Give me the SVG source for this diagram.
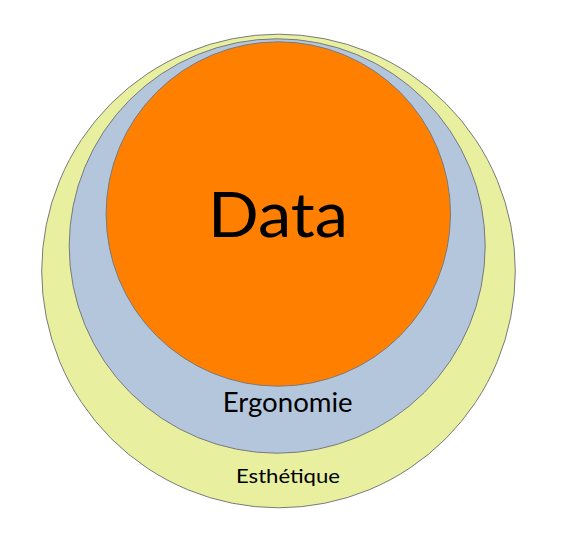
<svg xmlns="http://www.w3.org/2000/svg" width="571" height="551" viewBox="0 0 571 551">
<style>
.c{stroke:#7a7a7a;stroke-width:1}
.t{font-family:Lato,"Open Sans","Liberation Sans",sans-serif;fill:#000;text-anchor:middle}
</style>
<rect width="571" height="551" fill="#fff"/>
<g id="esthetique">
<circle class="c" cx="278.5" cy="271" r="236.8" fill="#E8F0A0"/>
<text class="t" x="288" y="482.5" font-size="20" textLength="104" lengthAdjust="spacingAndGlyphs">Esthétique</text>
</g>
<g id="ergonomie">
<ellipse class="c" cx="277.2" cy="246" rx="208" ry="207.2" fill="#B4C6DC"/>
<text class="t" x="287.7" y="411.5" font-size="26" textLength="130" lengthAdjust="spacingAndGlyphs">Ergonomie</text>
</g>
<g id="data">
<circle class="c" cx="278.3" cy="214" r="172.2" fill="#FF8000"/>
<text class="t" x="278" y="237" font-size="61" textLength="140" lengthAdjust="spacingAndGlyphs">Data</text>
</g>
<g id="connectors"/>
</svg>
